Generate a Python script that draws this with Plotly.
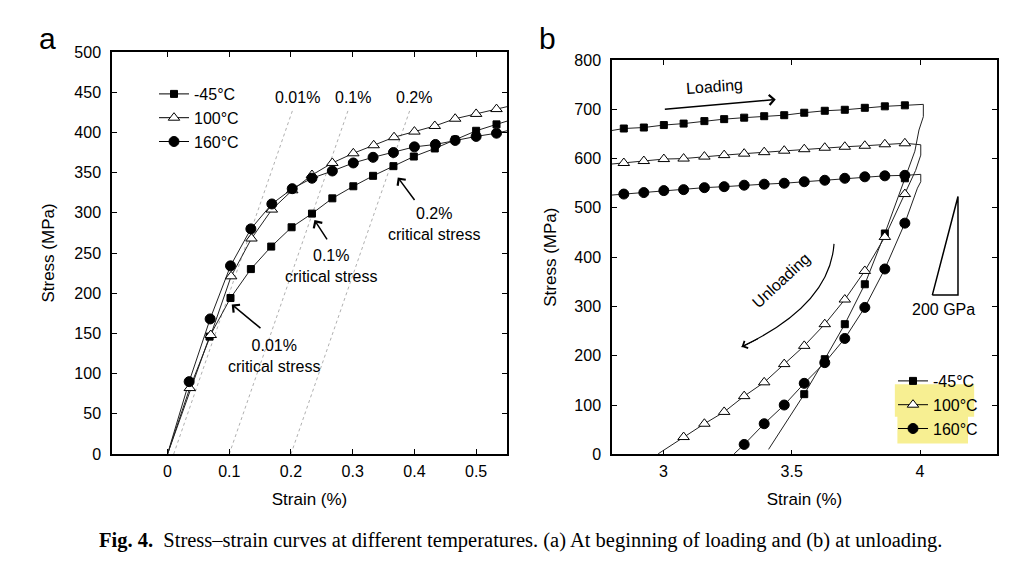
import plotly.graph_objects as go

# ---- data ----
temps = ["-45°C", "100°C", "160°C"]

# (a) beginning of loading: marker points (strain %, stress MPa)
a_strain_m45 = [0.068, 0.102, 0.135, 0.168, 0.201, 0.234, 0.267, 0.301, 0.333, 0.366, 0.399, 0.433, 0.466, 0.500, 0.533]
a_stress_m45 = [146, 194, 230, 258, 282, 299, 318, 333, 346, 358, 370, 380, 391, 402, 410]
a_strain_100 = [0.036, 0.070, 0.103, 0.136, 0.169, 0.202, 0.234, 0.267, 0.301, 0.334, 0.367, 0.400, 0.433, 0.466, 0.500, 0.533]
a_stress_100 = [82, 148, 221, 268, 304, 328, 347, 362, 374, 384, 394, 401, 408, 417, 423, 429]
a_strain_160 = [0.035, 0.069, 0.102, 0.135, 0.169, 0.202, 0.234, 0.267, 0.301, 0.333, 0.366, 0.400, 0.434, 0.466, 0.500, 0.533]
a_stress_160 = [90, 168, 234, 280, 311, 330, 343, 352, 362, 369, 375, 382, 385, 390, 395, 399]
a_end_strain = 0.55
a_end_stress = [414, 432, 402]

# offset lines (0.01 %, 0.1 %, 0.2 %) with the elastic slope
a_offsets = [0.01, 0.1, 0.2]
a_offset_labels = ["0.01%", "0.1%", "0.2%"]
a_modulus = 2220      # MPa per % strain
a_offset_top = 428    # MPa

# (b) unloading
b_start_strain = 2.8
b_start_stress = [657, 589, 526]
b_load_strain = [2.846, 2.924, 3.002, 3.079, 3.160, 3.237, 3.315, 3.393, 3.471, 3.549, 3.629, 3.707, 3.785, 3.863, 3.941]
b_load_m45 = [661, 663, 668, 671, 676, 680, 683, 686, 688, 693, 697, 699, 703, 706, 708]
b_load_100 = [591, 595, 599, 600, 604, 607, 610, 613, 616, 619, 622, 624, 626, 629, 631]
b_load_160 = [528, 531, 535, 537, 541, 543, 546, 548, 550, 553, 556, 560, 563, 565, 566]

# turning points at the end of loading (no markers)
b_turn_strain_m45 = [4.013, 4.013, 3.996, 3.980]
b_turn_stress_m45 = [710, 685, 658, 615]
b_turn_strain_100 = [4.003, 4.003, 3.983]
b_turn_stress_100 = [628, 607, 576]
b_turn_strain_160 = [4.003, 4.003, 3.990]
b_turn_stress_160 = [568, 553, 540]

b_unload_strain_m45 = [3.941, 3.863, 3.785, 3.707, 3.629, 3.549]
b_unload_m45 = [560, 448, 345, 264, 193, 122]
b_unload_strain_100 = [3.941, 3.863, 3.785, 3.707, 3.629, 3.549, 3.471, 3.393, 3.315, 3.237, 3.160, 3.079]
b_unload_100 = [528, 441, 372, 314, 264, 220, 183, 146, 118, 86, 62, 35]
b_unload_strain_160 = [3.941, 3.863, 3.785, 3.707, 3.629, 3.549, 3.471, 3.393, 3.315]
b_unload_160 = [469, 376, 298, 235, 186, 144, 100, 62, 20]
b_end_strain = [3.41, 2.98, 3.276]
b_end_stress = [10, 1, 1]

# 200 GPa slope glyph
b_glyph_strain0 = 4.048
b_glyph_dstrain = 0.1
b_glyph_stress0 = 323
b_glyph_modulus = 200  # GPa

FONT = "Liberation Sans"
W, H = 1032, 572


# screen pixel -> paper fraction (page offset and plot height measured from a test render)
def px(x):
    return (x - 8) / W


def py(y):
    return 1 - (y - 16) / 555


marker_styles = [
    dict(symbol="square", size=7, color="black", line=dict(color="black", width=1)),
    dict(symbol="triangle-up", size=10, color="white", line=dict(color="black", width=1)),
    dict(symbol="circle", size=10, color="black", line=dict(color="black", width=1)),
]
line_style = dict(color="#222222", width=1)

fig = go.Figure()

# ---- panel a ----
for off in a_offsets:
    fig.add_trace(go.Scatter(
        x=[off, off + a_offset_top / a_modulus], y=[0, a_offset_top],
        mode="lines", line=dict(color="#b0b0b0", width=1, dash="dot"),
        showlegend=False, hoverinfo="skip", xaxis="x", yaxis="y"))

a_series = [(a_strain_m45, a_stress_m45), (a_strain_100, a_stress_100), (a_strain_160, a_stress_160)]
for i, (xs, ys) in enumerate(a_series):
    fig.add_trace(go.Scatter(
        x=[0] + xs + [a_end_strain], y=[0] + ys + [a_end_stress[i]],
        mode="lines", line=line_style, showlegend=False, xaxis="x", yaxis="y"))
for i, (xs, ys) in enumerate(a_series):
    fig.add_trace(go.Scatter(
        x=xs, y=ys, mode="markers", marker=marker_styles[i],
        showlegend=False, xaxis="x", yaxis="y"))

# ---- panel b ----
b_series = [
    (b_load_m45, b_turn_strain_m45, b_turn_stress_m45, b_unload_strain_m45, b_unload_m45),
    (b_load_100, b_turn_strain_100, b_turn_stress_100, b_unload_strain_100, b_unload_100),
    (b_load_160, b_turn_strain_160, b_turn_stress_160, b_unload_strain_160, b_unload_160),
]
for i, (load, tx, ty, ux, uy) in enumerate(b_series):
    fig.add_trace(go.Scatter(
        x=[b_start_strain] + b_load_strain + tx + ux + [b_end_strain[i]],
        y=[b_start_stress[i]] + load + ty + uy + [b_end_stress[i]],
        mode="lines", line=line_style, showlegend=False, xaxis="x2", yaxis="y2"))
for i, (load, tx, ty, ux, uy) in enumerate(b_series):
    fig.add_trace(go.Scatter(
        x=b_load_strain + ux, y=load + uy, mode="markers", marker=marker_styles[i],
        showlegend=False, xaxis="x2", yaxis="y2"))

# 200 GPa triangle
g_h = b_glyph_modulus * 1000 * b_glyph_dstrain / 100
fig.add_trace(go.Scatter(
    x=[b_glyph_strain0, b_glyph_strain0 + b_glyph_dstrain, b_glyph_strain0 + b_glyph_dstrain, b_glyph_strain0],
    y=[b_glyph_stress0, b_glyph_stress0 + g_h, b_glyph_stress0, b_glyph_stress0],
    mode="lines", line=dict(color="black", width=1.5), showlegend=False, xaxis="x2", yaxis="y2"))

# legend-only entries
for lg in ["legend", "legend2"]:
    for i, t in enumerate(temps):
        fig.add_trace(go.Scatter(
            x=[None], y=[None], mode="lines+markers", name=t, marker=marker_styles[i],
            line=dict(color="black", width=1), legend=lg,
            xaxis="x" if lg == "legend" else "x2", yaxis="y" if lg == "legend" else "y2"))

ann = []
for off, lab in zip(a_offsets, a_offset_labels):
    ann.append(dict(x=off + 0.2, y=444, xref="x", yref="y", text=lab, showarrow=False))
ann += [
    dict(x=0.432, y=286, xref="x", yref="y", text="0.2%<br>critical stress", showarrow=False),
    dict(x=0.265, y=234, xref="x", yref="y", text="0.1%<br>critical stress", showarrow=False),
    dict(x=0.173, y=122, xref="x", yref="y", text="0.01%<br>critical stress", showarrow=False),
]
for tail, head in [((0.402, 314), (0.373, 344)), ((0.260, 265), (0.238, 291)), ((0.153, 155), (0.104, 186))]:
    ann.append(dict(x=head[0], y=head[1], ax=tail[0], ay=tail[1], xref="x", yref="y", axref="x", ayref="y",
                    text="", showarrow=True, arrowhead=4, arrowsize=1.3, arrowwidth=1.5, arrowcolor="black"))
ann += [
    dict(x=3.198, y=746, xref="x2", yref="y2", text="Loading", showarrow=False, textangle=-4),
    dict(x=3.438, y=720, ax=3.0, ay=700, xref="x2", yref="y2", axref="x2", ayref="y2", text="",
         showarrow=True, arrowhead=4, arrowsize=1.3, arrowwidth=1.5, arrowcolor="black"),
    dict(x=3.458, y=353, xref="x2", yref="y2", text="Unloading", showarrow=False, textangle=-43),
    dict(x=3.305, y=218, ax=3.374, ay=236, xref="x2", yref="y2", axref="x2", ayref="y2", text="",
         showarrow=True, arrowhead=4, arrowsize=1.3, arrowwidth=1.2, arrowcolor="black"),
    dict(x=4.093, y=293, xref="x2", yref="y2", text="200 GPa", showarrow=False),
]
for a in ann:
    a.setdefault("font", dict(family=FONT, size=16, color="black"))
ann += [
    dict(x=px(47), y=py(38), xref="paper", yref="paper", xanchor="center", yanchor="middle",
         text="a", showarrow=False, font=dict(family=FONT, size=30, color="black")),
    dict(x=px(547), y=py(38), xref="paper", yref="paper", xanchor="center", yanchor="middle",
         text="b", showarrow=False, font=dict(family=FONT, size=30, color="black")),
    dict(x=px(520), y=py(540), xref="paper", yref="paper", xanchor="center", yanchor="middle", showarrow=False,
         text="<b>Fig. 4.</b>  Stress–strain curves at different temperatures. (a) At beginning of loading and (b) at unloading.",
         font=dict(family="Liberation Serif", size=20.5, color="black")),
]

shapes = [
    dict(type="rect", xref="x2", yref="y2", x0=3.902, x1=4.211, y0=76, y1=142, layer="below",
         fillcolor="#f7ef92", line=dict(width=0)),
    dict(type="rect", xref="x2", yref="y2", x0=3.912, x1=4.187, y0=22, y1=86, layer="below",
         fillcolor="#f7ef92", line=dict(width=0)),
    # curved unloading arrow shaft
    dict(type="path", xref="x2", yref="y2", path="M 3.665,427 Q 3.649,303 3.305,218",
         line=dict(color="black", width=1.2)),
]

axis_common = dict(showline=True, linecolor="black", linewidth=1.5, mirror="ticks", ticks="inside",
                   ticklen=5, tickcolor="black", showgrid=False, zeroline=False,
                   tickfont=dict(family=FONT, size=16, color="black"),
                   title_font=dict(family=FONT, size=17, color="black"))

fig.update_layout(
    width=W, height=H, margin=dict(l=0, r=0, t=0, b=0),
    paper_bgcolor="white", plot_bgcolor="rgba(0,0,0,0)",
    font=dict(family=FONT, color="black"),
    xaxis=dict(domain=[px(112), px(507)], range=[-0.09, 0.55], tickvals=[0, 0.1, 0.2, 0.3, 0.4, 0.5],
               ticktext=["0", "0.1", "0.2", "0.3", "0.4", "0.5"], anchor="y",
               title=dict(text="Strain (%)", standoff=14), ticklabelstandoff=2, **axis_common),
    yaxis=dict(domain=[py(454), py(52)], range=[0, 500], dtick=50, anchor="x",
               title=dict(text="Stress (MPa)", standoff=15), ticklabelstandoff=6, **axis_common),
    xaxis2=dict(domain=[px(612), px(997)], range=[2.8, 4.3], tickvals=[3, 3.5, 4],
                ticktext=["3", "3.5", "4"], anchor="y2",
                title=dict(text="Strain (%)", standoff=14), ticklabelstandoff=2, **axis_common),
    yaxis2=dict(domain=[py(454.3), py(60)], range=[0, 800], dtick=100, anchor="x2",
                title=dict(text="Stress (MPa)", standoff=13), ticklabelstandoff=6, **axis_common),
    legend=dict(x=px(154), y=py(77), xanchor="left", yanchor="top", bgcolor="rgba(0,0,0,0)",
                font=dict(family=FONT, size=16, color="black"), tracegroupgap=0, itemwidth=30),
    legend2=dict(x=px(893), y=py(364), xanchor="left", yanchor="top", bgcolor="rgba(0,0,0,0)",
                 font=dict(family=FONT, size=16, color="black"), tracegroupgap=0, itemwidth=30),
    annotations=ann, shapes=shapes, showlegend=True,
)

fig.write_html("out.html")
